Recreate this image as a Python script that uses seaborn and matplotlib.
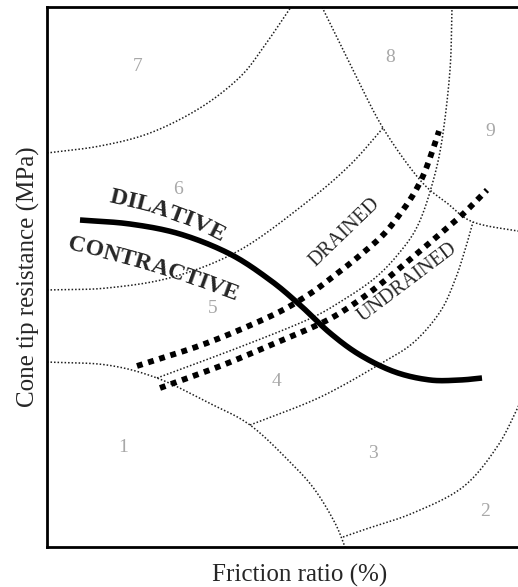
import numpy as np
import matplotlib
matplotlib.use("Agg")
import matplotlib.pyplot as plt
from matplotlib.font_manager import FontProperties
import seaborn as sns

# Chart units: friction-ratio axis 0..506, cone-resistance axis 0..540 (log-log chart, unitless here)
X_MAX, Y_MAX = 506, 540

# Soil-behaviour-type zone boundaries (x, y pairs along each boundary)
b76_x = [0, 53, 103, 153, 193, 218, 244]
b76_y = [394, 401, 414, 439, 470, 502, 540]

b65_x = [0, 60, 126, 193, 260, 303, 336]
b65_y = [257, 259, 270, 297, 345, 382, 419]

b89_x = [275, 305, 336, 373, 400, 426, 471, 506]
b89_y = [540, 479, 419, 367, 344, 325, 316, 311]

b54_x = [110, 193, 260, 293, 328, 353, 371, 385, 395, 403, 405]
b54_y = [169, 200, 227, 245, 269, 295, 322, 362, 407, 477, 540]

b43_x = [203, 260, 293, 333, 366, 393, 408, 418, 426]
b43_y = [122, 144, 160, 183, 204, 235, 267, 297, 325]

b1_x = [0, 60, 110, 160, 203, 244, 268, 288, 298]
b1_y = [185, 182, 169, 145, 122, 84, 57, 24, 0]

b32_x = [296, 316, 366, 416, 450, 471, 483]
b32_y = [10, 17, 34, 60, 100, 140, 167]

# Dilative / contractive boundary
dc_x = [33, 83, 133, 183, 223, 253, 283, 313, 348, 383, 413, 435]
dc_y = [327, 323, 313, 293, 267, 242, 214, 192, 175, 167, 167, 169]

# Drained and undrained penetration trends
dr_x = [90, 160, 226, 261, 283, 311, 336, 353, 366, 376, 384, 392]
dr_y = [181, 204, 232, 252, 268, 290, 312, 333, 352, 371, 392, 416]

ud_x = [113, 176, 226, 266, 293, 326, 360, 393, 416, 440]
ud_y = [159, 182, 203, 220, 234, 257, 285, 313, 333, 357]

# Zone numbers and their label positions
zone_ids = ["1", "2", "3", "4", "5", "6", "7", "8", "9"]
zone_x = [76, 438, 326, 230, 166, 131, 91, 343, 443]
zone_y = [99, 35, 94, 165, 238, 357, 480, 489, 415]

# Guide lines along which the curved region names are set
dil_x = [63, 111, 153, 176]
dil_y = [350, 338, 322, 311]
con_x = [26, 78, 128, 186]
con_y = [302, 289, 274, 253]


def smooth(xs, ys, n=24):
    """Catmull-Rom curve through the given points."""
    p = np.column_stack([xs, ys]).astype(float)
    p = np.vstack([2 * p[0] - p[1], p, 2 * p[-1] - p[-2]])
    t = np.linspace(0, 1, n, endpoint=False)[:, None]
    parts = []
    for i in range(1, len(p) - 2):
        p0, p1, p2, p3 = p[i - 1], p[i], p[i + 1], p[i + 2]
        parts.append(0.5 * (2 * p1 + (-p0 + p2) * t
                            + (2 * p0 - 5 * p1 + 4 * p2 - p3) * t ** 2
                            + (-p0 + 3 * p1 - 3 * p2 + p3) * t ** 3))
    parts.append(p[-2][None, :])
    c = np.vstack(parts)
    return c[:, 0], c[:, 1]


def text_on_path(ax, s, gx, gy, size, weight="normal"):
    """Set each letter of s along the guide curve, turned to its tangent."""
    renderer = ax.figure.canvas.get_renderer()
    fp = FontProperties(family=plt.rcParams["font.family"], size=size, weight=weight)
    sx, sy = smooth(gx, gy)
    pts = ax.transData.transform(np.column_stack([sx, sy]))
    seg = np.hypot(*np.diff(pts, axis=0).T)
    cum = np.concatenate([[0], np.cumsum(seg)])
    widths = [renderer.get_text_width_height_descent(ch, fp, ismath=False)[0] for ch in s]
    pos = (cum[-1] - sum(widths)) / 2
    inv = ax.transData.inverted()
    for ch, w in zip(s, widths):
        c = pos + w / 2
        px = np.interp(c, cum, pts[:, 0])
        py = np.interp(c, cum, pts[:, 1])
        i = int(np.clip(np.searchsorted(cum, c), 1, len(pts) - 1))
        d = pts[i] - pts[i - 1]
        ang = np.degrees(np.arctan2(d[1], d[0]))
        dx, dy = inv.transform((px, py))
        ax.text(dx, dy, ch, fontproperties=fp, rotation=ang,
                rotation_mode="anchor", ha="center", va="center")
        pos += w


sns.set_style("white")
plt.rcParams["font.family"] = ["Liberation Serif", "DejaVu Serif"]

fig = plt.figure(figsize=(5.18, 5.87), dpi=100)
ax = fig.add_axes([47 / 518, 40 / 587, 506 / 518, 540 / 587])
ax.set_xlim(0, X_MAX)
ax.set_ylim(0, Y_MAX)

thin = dict(color="#1e1e1e", lw=1.1, linestyle=(0, (1, 1.3)))
for bx, by in [(b76_x, b76_y), (b65_x, b65_y), (b89_x, b89_y), (b54_x, b54_y),
               (b43_x, b43_y), (b1_x, b1_y), (b32_x, b32_y)]:
    sx, sy = smooth(bx, by)
    sns.lineplot(x=sx, y=sy, sort=False, estimator=None, ax=ax, **thin)

sx, sy = smooth(dc_x, dc_y)
sns.lineplot(x=sx, y=sy, sort=False, estimator=None, ax=ax,
             color="black", lw=4.0, solid_capstyle="butt")

for bx, by in [(dr_x, dr_y), (ud_x, ud_y)]:
    sx, sy = smooth(bx, by)
    sns.lineplot(x=sx, y=sy, sort=False, estimator=None, ax=ax,
                 color="black", lw=4.2, linestyle=(0, (1, 1.0)),
                 dash_capstyle="butt")

for zid, zx, zy in zip(zone_ids, zone_x, zone_y):
    ax.text(zx, zy, zid, color="#a8a8a8", fontsize=14, ha="center", va="center")

ax.set_xticks([])
ax.set_yticks([])
for side in ["left", "bottom", "top"]:
    ax.spines[side].set_linewidth(2.0)
    ax.spines[side].set_color("black")
ax.spines["right"].set_visible(False)

ax.set_xlabel("Friction ratio (%)", fontsize=18, labelpad=12)
ax.set_ylabel("Cone tip resistance (MPa)", fontsize=18, labelpad=5)

text_on_path(ax, "DILATIVE", dil_x, dil_y, 17.5, "bold")
text_on_path(ax, "CONTRACTIVE", con_x, con_y, 17, "bold")
ax.text(298, 315, "DRAINED", fontsize=14.5, rotation=44,
        rotation_mode="anchor", ha="center", va="center")
ax.text(360, 264, "UNDRAINED", fontsize=14.5, rotation=37,
        rotation_mode="anchor", ha="center", va="center")

fig.savefig("out.png", dpi=100)
